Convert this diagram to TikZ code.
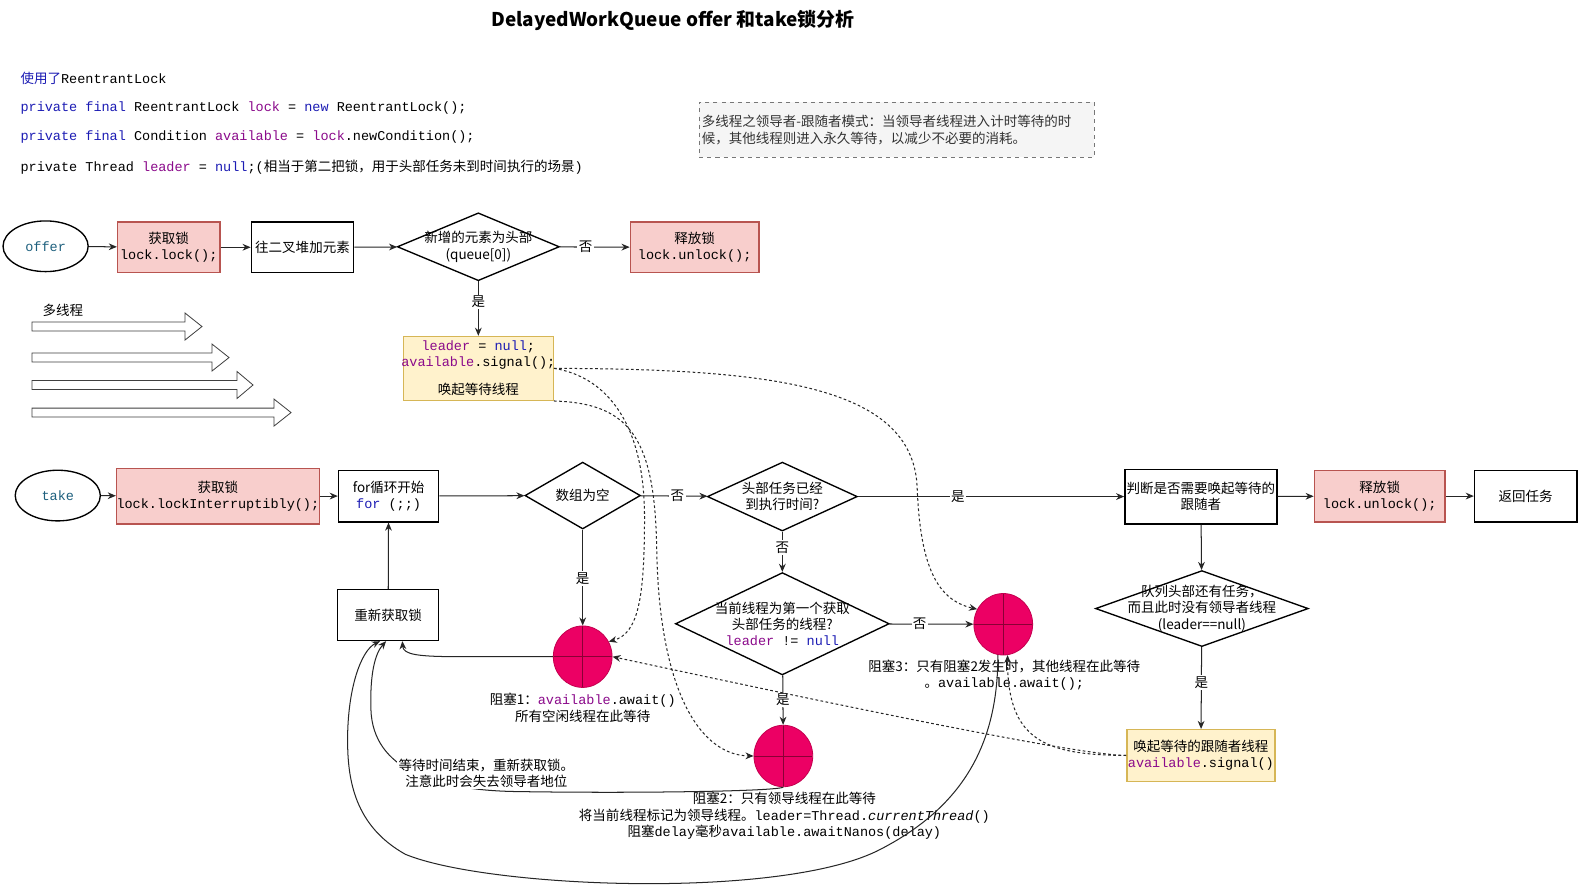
\documentclass[tikz,border=0pt]{standalone}
\usepackage{fontspec}
\setmainfont{Noto Sans CJK SC}
\setmonofont{Liberation Mono}
\newfontfamily\cjk{Noto Sans CJK SC}
\usetikzlibrary{shapes.geometric,arrows.meta,calc}
\definecolor{pinkF}{HTML}{F8CECC}
\definecolor{pinkD}{HTML}{B85450}
\definecolor{yelF}{HTML}{FFF2CC}
\definecolor{yelD}{HTML}{D6B656}
\definecolor{blkF}{HTML}{EC0064}
\definecolor{blkD}{HTML}{C4004F}
\definecolor{blkL}{HTML}{8A0035}
\definecolor{cblue}{HTML}{1C1CB4}
\definecolor{cpurple}{HTML}{8B0A8B}
\definecolor{termC}{HTML}{1E607E}
\definecolor{noteF}{HTML}{F5F5F5}
\definecolor{noteD}{HTML}{777777}
\definecolor{noteT}{HTML}{333333}
\newcommand\myfs{\fontsize{10}{12}\selectfont}
\newcommand\kw[1]{{\color{cblue}#1}}
\newcommand\fld[1]{{\color{cpurple}#1}}
\newcommand\myfatarrow[3]{\draw[fat] (31.6,{#1-4.4}) -- (#2,{#1-4.4}) -- (#2,{#1-13.3}) -- (#3,#1) -- (#2,{#1+13.3}) -- (#2,{#1+4.4}) -- (31.6,{#1+4.4}) -- cycle;}
\begin{document}
\begin{tikzpicture}[x=0.75pt,y=-0.75pt,
  box/.style={draw=black, line width=1pt, fill=white, inner sep=0pt, align=center, font=\myfs},
  pinkbox/.style={box, fill=pinkF, draw=pinkD},
  yelbox/.style={box, fill=yelF, draw=yelD},
  dia/.style={diamond, draw=black, line width=1pt, fill=white, inner sep=0pt},
  blk/.style={ellipse, fill=blkF, draw=blkD, line width=0.6pt, inner sep=0pt, minimum width=43.5pt, minimum height=45.5pt,
    path picture={\draw[blkL, line width=0.5pt] (path picture bounding box.north) -- (path picture bounding box.south)
      (path picture bounding box.west) -- (path picture bounding box.east);}},
  term/.style={ellipse, draw=black, line width=1pt, fill=white, inner sep=0pt, minimum width=63pt, minimum height=37.5pt, font=\myfs\ttfamily, text=termC},
  arr/.style={draw=black!85, line width=0.75pt, -{Stealth[length=6pt,width=5pt]}},
  darr/.style={arr, dash pattern=on 2pt off 1.8pt},
  lbl/.style={fill=white, inner sep=1pt, font=\myfs},
  txt/.style={align=center, font=\myfs, inner sep=0pt},
  code/.style={anchor=west, inner sep=0pt, font=\fontsize{10}{12}\selectfont\ttfamily},
  fat/.style={draw=black!75, line width=0.6pt, fill=white},
]
\fill[white] (0,0) rectangle (1568,876);
\useasboundingbox (0,0) rectangle (1568,876);

% title
\node[font=\fontsize{14}{16}\selectfont\bfseries] (title) at (664,20) {DelayedWorkQueue offer 和take锁分析};

% code lines
\node[code] (l1) at (20,77) {{\cjk\color{cblue}使用了}ReentrantLock};
\node[code] (l2) at (20,107) {\kw{private} \kw{final} ReentrantLock \fld{lock} = \kw{new} ReentrantLock();};
\node[code] (l3) at (20,135.5) {\kw{private} \kw{final} Condition \fld{available} = \fld{lock}.newCondition();};
\node[code] (l4) at (20,165) {private Thread \fld{leader} = \kw{null};({\cjk 相当于第二把锁，用于头部任务未到时间执行的场景})};

% note
\node[draw=noteD, dashed, line width=0.6pt, fill=noteF, minimum width=292.5pt, minimum height=40.5pt, inner sep=0pt] (note) at (885,128) {};
\node[anchor=west, align=left, text=noteT, font=\fontsize{10}{12.75}\selectfont, inner sep=0pt] (notetxt) at ([xshift=2pt]note.west)
  {多线程之领导者-跟随者模式：当领导者线程进入计时等待的时\\候，其他线程则进入永久等待，以减少不必要的消耗。};

% offer row
\node[term] (offer) at (45,243) {offer};
\node[pinkbox, minimum width=75.75pt, minimum height=37.5pt] (olock) at (166.5,244) {获取锁\\{\ttfamily lock.lock();}};
\node[box, minimum width=75.75pt, minimum height=37.5pt] (oheap) at (298.5,244) {往二叉堆加元素};
\node[dia, minimum width=120pt, minimum height=50.25pt] (odia) at (472,243.5) {};
\node[txt] (odiat) at (odia) {新增的元素为头部\\(queue[0])};
\node[pinkbox, minimum width=95.25pt, minimum height=37.5pt] (ounlock) at (685.5,244) {释放锁\\{\ttfamily lock.unlock();}};
\node[yelbox, minimum width=111pt, minimum height=47.25pt] (osig) at (472,363.5) {};
\node[txt] (osigt) at (osig) {{\ttfamily\fld{leader} = \kw{null};}\\{\ttfamily\fld{available}.signal();}\\[9pt]唤起等待线程};

\draw[arr] (offer) -- (olock);
\draw[arr] (olock) -- (oheap);
\draw[arr] (oheap) -- (odia);
\draw[arr] (odia) -- node[lbl, pos=0.37] (lno1) {否} (ounlock);
\draw[arr] (odia) -- node[lbl, pos=0.38] (lyes1) {是} (osig);

% multi-thread arrows
\node[font=\myfs, inner sep=0pt] (multi) at (62,306) {多线程};
\myfatarrow{322.2}{182.6}{199.3}
\myfatarrow{352.8}{209.2}{226}
\myfatarrow{379.9}{233.9}{249.7}
\myfatarrow{407.1}{270.4}{287.2}

% take row
\node[term] (take) at (57,489) {take};
\node[pinkbox, minimum width=148.5pt, minimum height=41.25pt] (tlock) at (215,489.5) {获取锁\\{\ttfamily lock.lockInterruptibly();}};
\node[box, minimum width=74.25pt, minimum height=38.25pt] (tfor) at (383.5,489.5) {for循环开始\\{\ttfamily\kw{for} (;;)}};
\node[dia, minimum width=85.5pt, minimum height=49.5pt] (tempty) at (575,489) {};
\node[txt] (temptyt) at (tempty) {数组为空};
\node[dia, minimum width=111pt, minimum height=51pt] (tdue) at (772,490) {};
\node[txt] (tduet) at (tdue) {头部任务已经\\到执行时间?};
\node[box, minimum width=112.5pt, minimum height=40.5pt] (tjudge) at (1185,490) {判断是否需要唤起等待的\\跟随者};
\node[pinkbox, minimum width=96.75pt, minimum height=38.25pt] (tunlock) at (1361.5,489.5) {释放锁\\{\ttfamily lock.unlock();}};
\node[box, minimum width=75.75pt, minimum height=38.25pt] (tret) at (1505.5,489.5) {返回任务};
\node[dia, minimum width=158.25pt, minimum height=75.75pt] (tfirst) at (772,615.5) {};
\node[txt] (tfirstt) at (tfirst) {当前线程为第一个获取\\头部任务的线程?\\{\ttfamily\fld{leader} != \kw{null}}};
\node[blk] (c3) at (990,616) {};
\node[blk] (c2) at (773,746) {};
\node[blk] (c1) at (575,648) {};
\node[box, minimum width=75pt, minimum height=37.5pt] (trelock) at (383,607) {重新获取锁};
\node[dia, minimum width=157.5pt, minimum height=56.25pt] (tmore) at (1186,600.5) {};
\node[txt] (tmoret) at (tmore) {队列头部还有任务，\\而且此时没有领导者线程\\(leader==null)};
\node[yelbox, minimum width=109.5pt, minimum height=38.25pt] (twake) at (1185,745.5) {唤起等待的跟随者线程\\{\ttfamily\fld{available}.signal()}};

% labels of blocks
\node[txt] (c1t) at (575,698.5) {阻塞1：{\ttfamily\fld{available}.await()}\\所有空闲线程在此等待};
\node[txt] (c3t) at (991,666) {阻塞3：只有阻塞2发生时，其他线程在此等待\\{\ttfamily{\cjk 。}available.await();}};
\node[txt] (c2t) at (774,805) {阻塞2：只有领导线程在此等待\\将当前线程标记为领导线程。{\ttfamily leader=Thread.\textit{currentThread}()}\\阻塞{\ttfamily delay}毫秒{\ttfamily available.awaitNanos(delay)}};

% take-row connectors
\draw[arr] (take) -- (tlock);
\draw[arr] (tlock) -- (tfor);
\draw[arr] (tfor) -- (tempty);
\draw[arr] (tempty) -- node[lbl, pos=0.55] (lno2) {否} (tdue);
\draw[arr] (tdue) -- node[lbl, pos=0.375] (lyes2) {是} (tjudge);
\draw[arr] (tjudge) -- (tunlock);
\draw[arr] (tunlock) -- (tret);
\draw[arr] (tempty) -- node[lbl, pos=0.51] (lyes3) {是} (c1);
\draw[arr] (tdue) -- node[lbl, pos=0.39] (lno3) {否} (tfirst);
\draw[arr] (tfirst) -- node[lbl, pos=0.36] (lno4) {否} (c3);
\draw[arr] (tfirst) -- node[lbl, pos=0.5] (lyes4) {是} (c2);
\draw[arr] (tjudge) -- (tmore);
\draw[arr] (tmore) -- node[lbl, pos=0.43] (lyes5) {是} (twake);
\draw[arr] (trelock) -- (tfor);

% returns to relock
\draw[arr] (c1.west) -- (455,648) .. controls (412,648) and (398,646) .. ($(trelock.south)+(14,0)$);
\draw[arr] (c3.-100) .. controls (985,740) and (945,800) .. (865,840)
  .. controls (765,888) and (480,876) .. (400,843)
  .. controls (350,815) and (343,770) .. (343,730)
  .. controls (343,680) and (356,642) .. ($(trelock.south)+(-8,0)$);
\draw[arr] (c2.south) .. controls (765,781) and (620,783) .. (505,781)
  .. controls (430,779) and (368,760) .. (366,700)
  .. controls (365,665) and (370,645) .. ($(trelock.south)+(-2,0)$);
\node[txt, fill=white, inner sep=1pt] (waitt) at (480,763) {等待时间结束，重新获取锁。\\注意此时会失去领导者地位};

% dashed signal connectors
\draw[darr] (osig.east) .. controls (760,364) and (900,380) .. (905,480)
  .. controls (908,560) and (925,592) .. (c3.150);
\draw[darr] (osig.east) .. controls (600,372) and (636,420) .. (636,510)
  .. controls (636,590) and (630,625) .. (c1.30);
\draw[darr] (osig.south east) .. controls (620,398) and (646,430) .. (648,540)
  .. controls (650,680) and (690,745) .. (c2.west);
\draw[darr] (twake.west) .. controls (1060,745) and (800,690) .. (c1.east);
\draw[darr] (twake.west) .. controls (1030,745) and (994,730) .. (c3.-82);
\end{tikzpicture}
\end{document}
